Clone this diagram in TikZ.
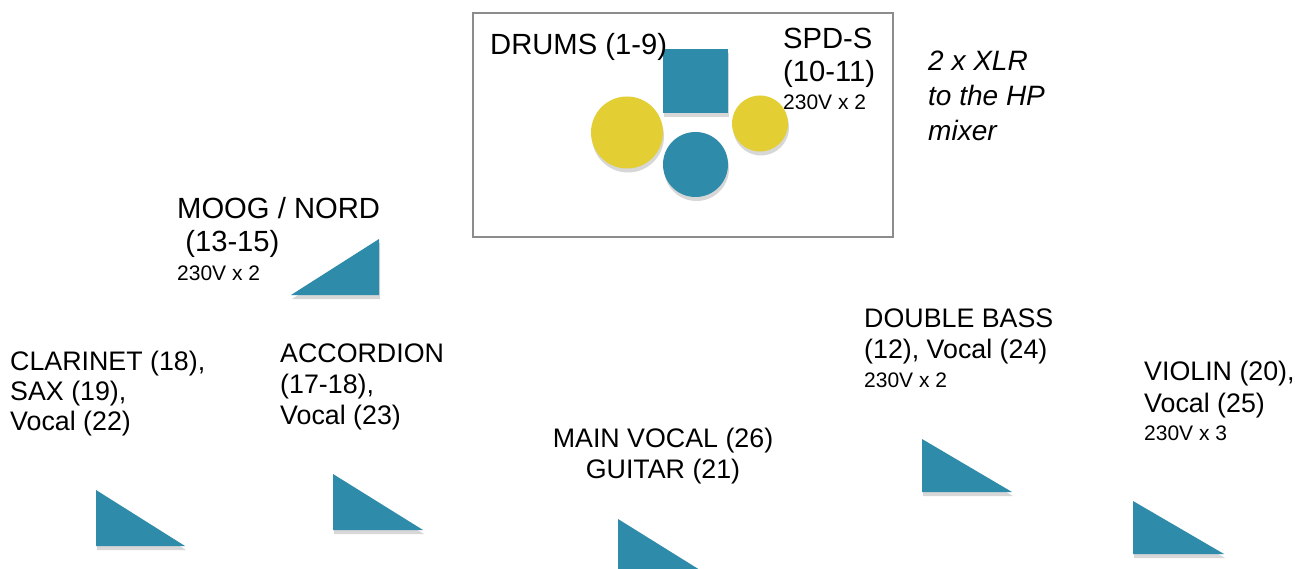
\documentclass[tikz,border=0pt]{standalone}
\usepackage{fontspec}
\setmainfont{Liberation Sans}
\usetikzlibrary{shadows}
\definecolor{padblue}{RGB}{46,139,169}
\definecolor{cymbal}{RGB}{227,206,52}

\begin{document}
\begin{tikzpicture}[x=1pt,y=1pt]
\tikzstyle{every node}+=[inner sep=0pt]
\tikzstyle{bigtext}=[font=\fontsize{29.2}{33}\selectfont, align=left, anchor=base west]
\tikzstyle{stagetext}=[font=\fontsize{26.8}{31}\selectfont, align=left, anchor=base west]
\tikzstyle{smalltext}=[font=\fontsize{21}{24}\selectfont, anchor=base west]
\tikzstyle{mixnote}=[font=\itshape\fontsize{28}{35}\selectfont, align=left, anchor=base west]
\tikzstyle{shade}=[drop shadow={shadow xshift=1pt, shadow yshift=-4pt, opacity=0.22, fill=black!70}]
\tikzstyle{monitor}=[fill=padblue, shade]
\useasboundingbox (0,0) rectangle (1295,-569);
\fill [white] (0,0) rectangle (1295,-569);
\clip (0,0) rectangle (1295,-569);
% drum riser
\draw [black!45, line width=2.5] (473,-13) rectangle (893,-237);
\fill [cymbal, shade] (627,-132.5) circle (36);
\fill [cymbal, shade] (760,-123.5) circle (28);
\fill [padblue, shade] (695.5,-164.5) circle (32.5);
\fill [padblue, shade] (663,-49) rectangle (728,-113);
\node [bigtext] (drums) at (490,-55) {DRUMS (1-9)};
\node [bigtext] (spds) at (783,-82) {SPD-S\\(10-11)};
\node [smalltext] (spdspower) at (783,-110) {230V x 2};
\node [mixnote] (xlr) at (928,-141) {2 x XLR\\to the HP\\mixer};
% keys
\fill [monitor] (379,-239) -- (379,-295) -- (291,-295) -- cycle;
\node [bigtext] (moog) at (177,-252) {MOOG / NORD\\~(13-15)};
\node [smalltext] (moogpower) at (177,-280) {230V x 2};
% front line
\node [stagetext, font=\fontsize{26.8}{30}\selectfont] (clarinet) at (10,-430) {CLARINET (18),\\SAX (19),\\Vocal (22)};
\fill [monitor] (96,-490) -- (96,-546) -- (185,-546) -- cycle;
\node [stagetext] (accordion) at (280,-424) {ACCORDION\\(17-18),\\Vocal (23)};
\fill [monitor] (333,-474) -- (333,-530) -- (423,-530) -- cycle;
\node [stagetext, align=center, anchor=base] (mainvocal) at (663,-478) {MAIN VOCAL (26)\\GUITAR (21)};
\fill [monitor] (618,-519) -- (618,-575) -- (708,-575) -- cycle;
\node [stagetext] (bass) at (864,-358) {DOUBLE BASS\\(12), Vocal (24)};
\node [smalltext] (basspower) at (864,-387) {230V x 2};
\fill [monitor] (922,-439) -- (922,-492) -- (1012,-492) -- cycle;
\node [stagetext, font=\fontsize{26.8}{32}\selectfont] (violin) at (1144,-412) {VIOLIN (20),\\Vocal (25)};
\node [smalltext] (violinpower) at (1144,-440) {230V x 3};
\fill [monitor] (1133,-501) -- (1133,-554) -- (1224,-554) -- cycle;
\end{tikzpicture}
\end{document}
